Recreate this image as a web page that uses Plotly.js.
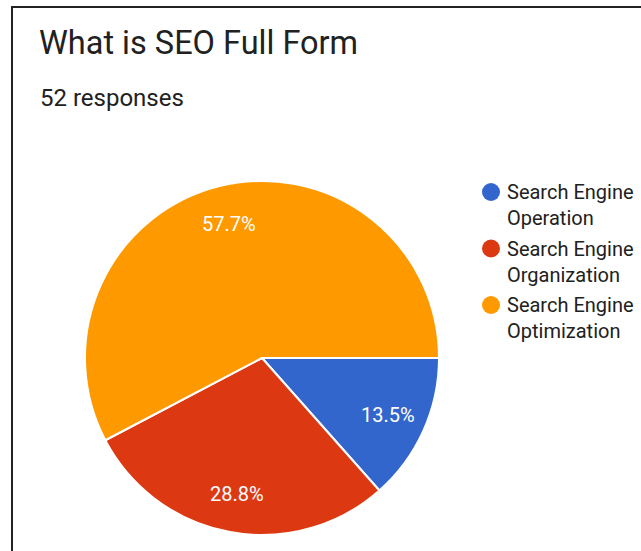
<!DOCTYPE html>
<html><head><meta charset="utf-8">
<script src="https://cdn.plot.ly/plotly-3.0.1.min.js"></script>
<style>
html,body{margin:0;padding:0;background:#fff;}
#frame{position:absolute;left:0;top:0;width:641px;height:551px;}
#bt{position:absolute;left:11px;top:6px;width:630px;height:2px;background:#222;}
#bl{position:absolute;left:11px;top:6px;width:2px;height:545px;background:#222;}
#chart{position:absolute;left:0;top:0;width:641px;height:551px;}
</style></head>
<body>
<div id="frame"><div id="chart"></div><div id="bt"></div><div id="bl"></div></div>
<script>
const titleText = "What is SEO Full Form";
const subtitleText = "52 responses";
const labels = ["Search Engine Operation", "Search Engine Organization", "Search Engine Optimization"];
const legendLines = ["Search Engine<br>Operation", "Search Engine<br>Organization", "Search Engine<br>Optimization"];
const values = [7, 15, 30];
const colors = ["#3366cc", "#dc3912", "#ff9900"];

const W = 641, H = 551;
const CX = 262, CY = 358, R = 177;
const shapes = [], annotations = [];
annotations.push({text: titleText, xref:'paper', yref:'paper', x: 37/W, y: 1 - 22/H, xanchor:'left', yanchor:'top', showarrow:false, font:{family:'Roboto', size:32.5, color:'#212121'}});
annotations.push({text: subtitleText, xref:'paper', yref:'paper', x: 38/W, y: 1 - 82/H, xanchor:'left', yanchor:'top', showarrow:false, font:{family:'Roboto', size:24, color:'#212121'}});
labels.forEach((l, i) => {
  const cy = 192 + i*56.5;
  shapes.push({type:'circle', xref:'paper', yref:'paper', x0:(482)/W, x1:(500)/W, y0:1-(cy+9)/H, y1:1-(cy-9)/H, fillcolor:colors[i], line:{width:0}});
  annotations.push({text: legendLines[i], xref:'paper', yref:'paper', x: 505/W, y: 1-(cy-14)/H, xanchor:'left', yanchor:'top', align:'left', showarrow:false, font:{family:'Roboto', size:20, color:'#212121'}});
});

// percentage labels placed at the slice mid-angle, derived from the values
const total = values.reduce((a, b) => a + b, 0);
let cum = 0;
values.forEach((v, i) => {
  const mid = (cum + v / 2) / total * 2 * Math.PI; // clockwise from 3 o'clock
  cum += v;
  const px = CX + 0.78 * R * Math.cos(mid);
  const py = CY + 0.78 * R * Math.sin(mid);
  annotations.push({text: (v / total * 100).toFixed(1) + '%', xref:'paper', yref:'paper', x: px / W, y: 1 - py / H, xanchor:'center', yanchor:'middle', showarrow:false, font:{family:'Roboto', size:20, color:'#ffffff'}});
});

const data = [{
  type:'pie', labels: labels, values: values, sort:false, direction:'clockwise', rotation:90,
  marker:{colors: colors, line:{color:'#ffffff', width:2}},
  textinfo:'none',
  hoverinfo:'label+percent',
  domain:{x:[(CX-R)/W,(CX+R)/W], y:[(H-CY-R)/H,(H-CY+R)/H]},
  showlegend:false
}];
const layout = {width:W, height:H, margin:{l:0,r:0,t:0,b:0}, paper_bgcolor:'#ffffff', showlegend:false, shapes:shapes, annotations:annotations};
Plotly.newPlot('chart', data, layout, {displayModeBar:false, staticPlot:true});
</script>
</body></html>
